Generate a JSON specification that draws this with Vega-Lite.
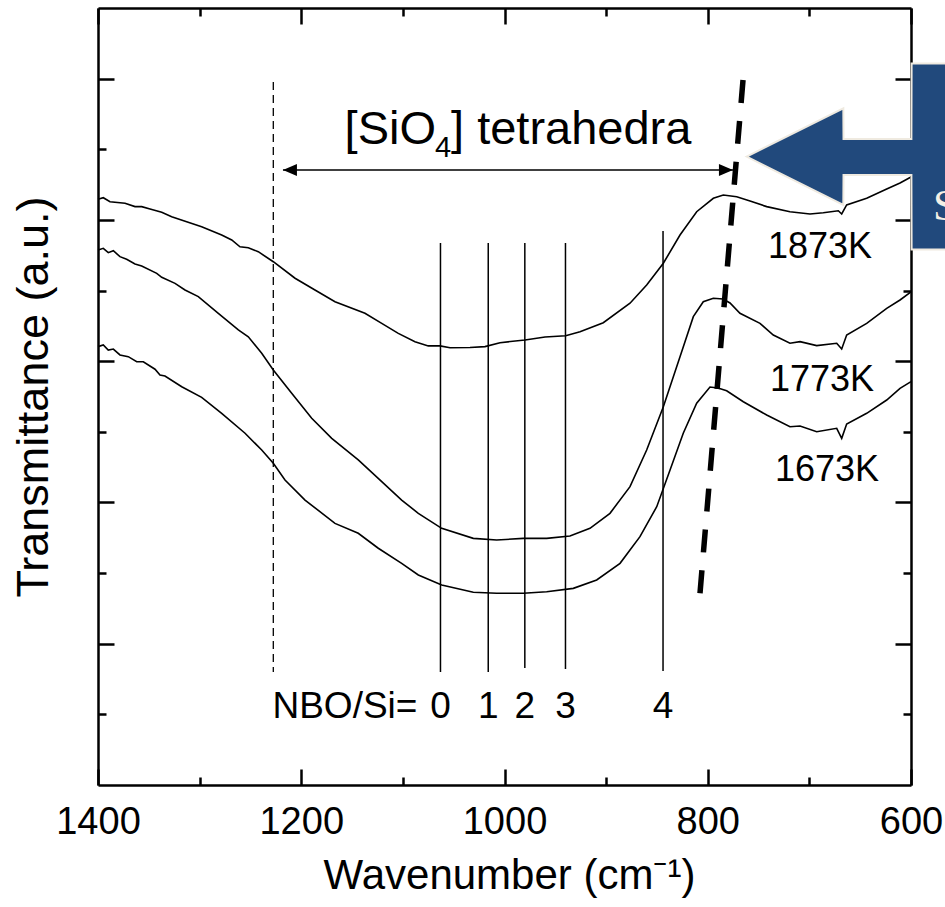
{
  "$schema": "https://vega.github.io/schema/vega-lite/v6.json",
  "width": 813,
  "height": 777,
  "autosize": {"type": "none"},
  "padding": {"left": 98, "top": 8, "right": 34, "bottom": 122},
  "background": "white",
  "config": {
    "view": {"stroke": null},
    "font": "Liberation Sans",
    "axis": {
      "grid": false,
      "domainColor": "black",
      "domainWidth": 2.5,
      "tickColor": "black",
      "tickWidth": 2.5,
      "labelColor": "black",
      "titleColor": "black",
      "titleFontWeight": "normal",
      "labelFlush": false,
      "labelOverlap": false
    }
  },
  "datasets": {
    "spectra": [
      {"s": "1873K", "w": 1400, "v": 4.146}, {"s": "1873K", "w": 1394.8, "v": 4.157}, {"s": "1873K", "w": 1388.2, "v": 4.129},
      {"s": "1873K", "w": 1373.4, "v": 4.118}, {"s": "1873K", "w": 1363.6, "v": 4.094}, {"s": "1873K", "w": 1357, "v": 4.094},
      {"s": "1873K", "w": 1348.8, "v": 4.077}, {"s": "1873K", "w": 1337.3, "v": 4.054}, {"s": "1873K", "w": 1327.5, "v": 4.023},
      {"s": "1873K", "w": 1298, "v": 3.952}, {"s": "1873K", "w": 1278.3, "v": 3.893}, {"s": "1873K", "w": 1268.4, "v": 3.858},
      {"s": "1873K", "w": 1260.3, "v": 3.81}, {"s": "1873K", "w": 1252.1, "v": 3.803}, {"s": "1873K", "w": 1242.3, "v": 3.775},
      {"s": "1873K", "w": 1227.5, "v": 3.704}, {"s": "1873K", "w": 1206.1, "v": 3.587}, {"s": "1873K", "w": 1186.5, "v": 3.504},
      {"s": "1873K", "w": 1166.8, "v": 3.421}, {"s": "1873K", "w": 1137.3, "v": 3.339}, {"s": "1873K", "w": 1120.8, "v": 3.268},
      {"s": "1873K", "w": 1104.5, "v": 3.197}, {"s": "1873K", "w": 1088.1, "v": 3.138}, {"s": "1873K", "w": 1075, "v": 3.108},
      {"s": "1873K", "w": 1063.5, "v": 3.108}, {"s": "1873K", "w": 1053.6, "v": 3.095}, {"s": "1873K", "w": 1034, "v": 3.097},
      {"s": "1873K", "w": 1019.2, "v": 3.103}, {"s": "1873K", "w": 1004.4, "v": 3.131}, {"s": "1873K", "w": 979.8, "v": 3.15},
      {"s": "1873K", "w": 960.1, "v": 3.171}, {"s": "1873K", "w": 939.8, "v": 3.18}, {"s": "1873K", "w": 925.7, "v": 3.209},
      {"s": "1873K", "w": 902.8, "v": 3.272}, {"s": "1873K", "w": 876.5, "v": 3.41}, {"s": "1873K", "w": 860.1, "v": 3.539},
      {"s": "1873K", "w": 843.7, "v": 3.693}, {"s": "1873K", "w": 827.3, "v": 3.893}, {"s": "1873K", "w": 810.9, "v": 4.058},
      {"s": "1873K", "w": 794.5, "v": 4.153}, {"s": "1873K", "w": 784.7, "v": 4.176}, {"s": "1873K", "w": 771.5, "v": 4.164},
      {"s": "1873K", "w": 758.4, "v": 4.134}, {"s": "1873K", "w": 742, "v": 4.094}, {"s": "1873K", "w": 719.1, "v": 4.058},
      {"s": "1873K", "w": 699.4, "v": 4.042}, {"s": "1873K", "w": 686.3, "v": 4.051}, {"s": "1873K", "w": 671.5, "v": 4.065},
      {"s": "1873K", "w": 668.2, "v": 4.042}, {"s": "1873K", "w": 663.3, "v": 4.106}, {"s": "1873K", "w": 643.6, "v": 4.153},
      {"s": "1873K", "w": 623.9, "v": 4.219}, {"s": "1873K", "w": 610.8, "v": 4.261}, {"s": "1873K", "w": 600, "v": 4.304},

      {"s": "1773K", "w": 1400, "v": 3.787}, {"s": "1773K", "w": 1394.8, "v": 3.799}, {"s": "1773K", "w": 1389.9, "v": 3.768},
      {"s": "1773K", "w": 1384.9, "v": 3.782}, {"s": "1773K", "w": 1378.4, "v": 3.74}, {"s": "1773K", "w": 1371.8, "v": 3.721},
      {"s": "1773K", "w": 1363.6, "v": 3.688}, {"s": "1773K", "w": 1357, "v": 3.674}, {"s": "1773K", "w": 1342.2, "v": 3.622},
      {"s": "1773K", "w": 1337.3, "v": 3.594}, {"s": "1773K", "w": 1324.2, "v": 3.551}, {"s": "1773K", "w": 1314.4, "v": 3.504},
      {"s": "1773K", "w": 1301.3, "v": 3.457}, {"s": "1773K", "w": 1281.6, "v": 3.339}, {"s": "1773K", "w": 1261.9, "v": 3.221},
      {"s": "1773K", "w": 1252.1, "v": 3.173}, {"s": "1773K", "w": 1238.9, "v": 3.056}, {"s": "1773K", "w": 1227.5, "v": 2.938},
      {"s": "1773K", "w": 1209.4, "v": 2.773}, {"s": "1773K", "w": 1189.7, "v": 2.596}, {"s": "1773K", "w": 1170, "v": 2.454},
      {"s": "1773K", "w": 1143.9, "v": 2.301}, {"s": "1773K", "w": 1120.8, "v": 2.147}, {"s": "1773K", "w": 1101.2, "v": 2.017},
      {"s": "1773K", "w": 1084.8, "v": 1.923}, {"s": "1773K", "w": 1061.8, "v": 1.817}, {"s": "1773K", "w": 1030.7, "v": 1.746},
      {"s": "1773K", "w": 1007.7, "v": 1.734}, {"s": "1773K", "w": 981.5, "v": 1.746}, {"s": "1773K", "w": 958.5, "v": 1.746},
      {"s": "1773K", "w": 935.6, "v": 1.763}, {"s": "1773K", "w": 915.9, "v": 1.817}, {"s": "1773K", "w": 896.2, "v": 1.923},
      {"s": "1773K", "w": 876.5, "v": 2.112}, {"s": "1773K", "w": 860.1, "v": 2.371}, {"s": "1773K", "w": 843.7, "v": 2.678},
      {"s": "1773K", "w": 827.3, "v": 3.032}, {"s": "1773K", "w": 814.2, "v": 3.315}, {"s": "1773K", "w": 804.4, "v": 3.421},
      {"s": "1773K", "w": 794.5, "v": 3.445}, {"s": "1773K", "w": 785, "v": 3.44}, {"s": "1773K", "w": 778.1, "v": 3.412},
      {"s": "1773K", "w": 768.3, "v": 3.339}, {"s": "1773K", "w": 748.6, "v": 3.268}, {"s": "1773K", "w": 735.5, "v": 3.185},
      {"s": "1773K", "w": 719.1, "v": 3.127}, {"s": "1773K", "w": 709.2, "v": 3.138}, {"s": "1773K", "w": 692.8, "v": 3.11},
      {"s": "1773K", "w": 673.1, "v": 3.127}, {"s": "1773K", "w": 668.2, "v": 3.086}, {"s": "1773K", "w": 663.3, "v": 3.185},
      {"s": "1773K", "w": 643.6, "v": 3.268}, {"s": "1773K", "w": 623.9, "v": 3.374}, {"s": "1773K", "w": 610.8, "v": 3.433},
      {"s": "1773K", "w": 600, "v": 3.49},

      {"s": "1673K", "w": 1400, "v": 3.103}, {"s": "1673K", "w": 1394.8, "v": 3.115}, {"s": "1673K", "w": 1389.9, "v": 3.079},
      {"s": "1673K", "w": 1384.9, "v": 3.086}, {"s": "1673K", "w": 1378.4, "v": 3.044}, {"s": "1673K", "w": 1370.2, "v": 3.032},
      {"s": "1673K", "w": 1361.9, "v": 2.996}, {"s": "1673K", "w": 1355.4, "v": 2.996}, {"s": "1673K", "w": 1343.9, "v": 2.943},
      {"s": "1673K", "w": 1339, "v": 2.902}, {"s": "1673K", "w": 1334.1, "v": 2.895}, {"s": "1673K", "w": 1317.6, "v": 2.819},
      {"s": "1673K", "w": 1298, "v": 2.744}, {"s": "1673K", "w": 1278.3, "v": 2.631}, {"s": "1673K", "w": 1255.3, "v": 2.49},
      {"s": "1673K", "w": 1238.9, "v": 2.371}, {"s": "1673K", "w": 1227.5, "v": 2.277}, {"s": "1673K", "w": 1216, "v": 2.159},
      {"s": "1673K", "w": 1196.3, "v": 2.017}, {"s": "1673K", "w": 1166.8, "v": 1.852}, {"s": "1673K", "w": 1143.9, "v": 1.782},
      {"s": "1673K", "w": 1124.2, "v": 1.676}, {"s": "1673K", "w": 1101.2, "v": 1.569}, {"s": "1673K", "w": 1084.8, "v": 1.487},
      {"s": "1673K", "w": 1061.8, "v": 1.416}, {"s": "1673K", "w": 1030.7, "v": 1.364}, {"s": "1673K", "w": 1007.7, "v": 1.357},
      {"s": "1673K", "w": 981.5, "v": 1.357}, {"s": "1673K", "w": 958.5, "v": 1.368}, {"s": "1673K", "w": 932.3, "v": 1.392},
      {"s": "1673K", "w": 909.3, "v": 1.451}, {"s": "1673K", "w": 886.3, "v": 1.569}, {"s": "1673K", "w": 866.7, "v": 1.758},
      {"s": "1673K", "w": 850.2, "v": 1.97}, {"s": "1673K", "w": 837.1, "v": 2.23}, {"s": "1673K", "w": 824.1, "v": 2.49},
      {"s": "1673K", "w": 810.9, "v": 2.702}, {"s": "1673K", "w": 797.8, "v": 2.817}, {"s": "1673K", "w": 789.9, "v": 2.81},
      {"s": "1673K", "w": 781.4, "v": 2.791}, {"s": "1673K", "w": 765, "v": 2.713}, {"s": "1673K", "w": 742, "v": 2.619},
      {"s": "1673K", "w": 719.1, "v": 2.536}, {"s": "1673K", "w": 709.2, "v": 2.541}, {"s": "1673K", "w": 692.8, "v": 2.501},
      {"s": "1673K", "w": 673.1, "v": 2.525}, {"s": "1673K", "w": 668.2, "v": 2.454}, {"s": "1673K", "w": 663.3, "v": 2.555},
      {"s": "1673K", "w": 643.6, "v": 2.631}, {"s": "1673K", "w": 623.9, "v": 2.725}, {"s": "1673K", "w": 610.8, "v": 2.808},
      {"s": "1673K", "w": 600, "v": 2.855}
    ],
    "nbo": [
      {"n": "0", "w": 1063, "top": 3.837, "bottom": 0.8},
      {"n": "1", "w": 1016, "top": 3.837, "bottom": 0.8},
      {"n": "2", "w": 980, "top": 3.837, "bottom": 0.828},
      {"n": "3", "w": 940, "top": 3.837, "bottom": 0.821},
      {"n": "4", "w": 844, "top": 3.921, "bottom": 0.807}
    ],
    "nboText": [
      {"t": "NBO/Si=", "w": 1157, "v": 0.474},
      {"t": "0", "w": 1063, "v": 0.474},
      {"t": "1", "w": 1016, "v": 0.474},
      {"t": "2", "w": 980, "v": 0.474},
      {"t": "3", "w": 940, "v": 0.474},
      {"t": "4", "w": 844, "v": 0.474}
    ],
    "edge": [
      {"w": 1227.5, "top": 4.976, "bottom": 0.8}
    ],
    "span": [
      {"w": 1218, "v": 4.353, "dir": "L"},
      {"w": 775.2, "v": 4.353, "dir": "R"}
    ],
    "shift": [
      {"i": 0, "w": 765.3, "v": 4.99},
      {"i": 1, "w": 808.6, "v": 1.274}
    ],
    "temps": [
      {"t": "1873K", "w": 689.6, "v": 3.805},
      {"t": "1773K", "w": 687.6, "v": 2.87},
      {"t": "1673K", "w": 682.7, "v": 2.23}
    ],
    "captionHead": [
      {"t": "[SiO", "w": 1067.4, "v": 4.537}
    ],
    "captionSub": [
      {"t": "4", "w": 1068.4, "v": 4.445}
    ],
    "captionTail": [
      {"t": "] tetrahedra", "w": 1052.6, "v": 4.537}
    ],
    "pointer": [
      {"w": 761.7, "top": 4.448, "bottom": 4.448},
      {"w": 666.6, "top": 4.79, "bottom": 4.106},
      {"w": 666.4, "top": 4.573, "bottom": 4.318},
      {"w": 599.6, "top": 4.573, "bottom": 4.318},
      {"w": 599.4, "top": 5.107, "bottom": 3.791},
      {"w": 550, "top": 5.107, "bottom": 3.791}
    ],
    "pointerText": [
      {"t": "S", "w": 578.4, "v": 4.0}
    ]
  },
  "layer": [
    {
      "data": {"name": "spectra"},
      "mark": {"type": "line", "color": "black", "strokeWidth": 1.6},
      "encoding": {
        "x": {
          "field": "w", "type": "quantitative",
          "scale": {"domain": [600, 1400], "reverse": true, "nice": false, "zero": false},
          "axis": {
            "orient": "bottom",
            "values": [1400, 1300, 1200, 1100, 1000, 900, 800, 700, 600],
            "labelExpr": "datum.value % 200 === 0 ? datum.label : ''",
            "format": "d",
            "tickSize": {"condition": {"test": "datum.value % 200 === 0", "value": -16}, "value": -8},
            "labelFontSize": 38,
            "labelBaseline": "top",
            "labelPadding": 34,
            "title": "Wavenumber (cm⁻¹)",
            "titleFontSize": 42,
            "titleX": 411,
            "titleY": 103,
            "titleAlign": "center",
            "titleBaseline": "alphabetic",
            "zindex": 0
          }
        },
        "y": {
          "field": "v", "type": "quantitative",
          "scale": {"domain": [0, 5.5], "nice": false, "zero": false},
          "axis": {
            "orient": "left",
            "values": [0.5, 1, 1.5, 2, 2.5, 3, 3.5, 4, 4.5, 5],
            "labels": false,
            "tickSize": {"condition": {"test": "datum.value % 1 === 0", "value": -16}, "value": -8},
            "title": "Transmittance (a.u.)",
            "titleFontSize": 45,
            "titleAngle": 270,
            "titleX": -51,
            "titleY": 388.5,
            "titleAlign": "center",
            "titleBaseline": "alphabetic",
            "zindex": 0
          }
        },
        "detail": {"field": "s", "type": "nominal"}
      }
    },
    {
      "data": {"name": "nbo"},
      "mark": {"type": "rule", "color": "black", "strokeWidth": 1.5},
      "encoding": {
        "x": {
          "field": "w", "type": "quantitative",
          "scale": {"domain": [600, 1400], "reverse": true, "nice": false, "zero": false},
          "axis": {
            "orient": "top",
            "values": [1400, 1300, 1200, 1100, 1000, 900, 800, 700, 600],
            "labels": false,
            "title": null,
            "tickSize": {"condition": {"test": "datum.value % 200 === 0", "value": -16}, "value": -8},
            "zindex": 0
          }
        },
        "y": {
          "field": "top", "type": "quantitative",
          "scale": {"domain": [0, 5.5], "nice": false, "zero": false},
          "axis": {
            "orient": "right",
            "values": [0.5, 1, 1.5, 2, 2.5, 3, 3.5, 4, 4.5, 5],
            "labels": false,
            "title": null,
            "tickSize": {"condition": {"test": "datum.value % 1 === 0", "value": -16}, "value": -8},
            "zindex": 0
          }
        },
        "y2": {"field": "bottom"}
      }
    },
    {
      "data": {"name": "edge"},
      "mark": {"type": "rule", "color": "black", "strokeWidth": 1.3, "strokeDash": [8, 5]},
      "encoding": {
        "x": {"field": "w", "type": "quantitative", "axis": null},
        "y": {"field": "top", "type": "quantitative", "axis": null},
        "y2": {"field": "bottom"}
      }
    },
    {
      "data": {"name": "span"},
      "mark": {"type": "line", "color": "black", "strokeWidth": 1.5},
      "encoding": {
        "x": {"field": "w", "type": "quantitative", "axis": null},
        "y": {"field": "v", "type": "quantitative", "axis": null}
      }
    },
    {
      "data": {"name": "span"},
      "mark": {"type": "point", "filled": true, "color": "black", "opacity": 1, "strokeWidth": 0, "size": 196},
      "encoding": {
        "x": {"field": "w", "type": "quantitative", "axis": null},
        "y": {"field": "v", "type": "quantitative", "axis": null},
        "shape": {
          "field": "dir", "type": "nominal", "legend": null,
          "scale": {"domain": ["L", "R"], "range": ["M0,0L2,-0.857L2,0.857Z", "M0,0L-2,-0.857L-2,0.857Z"]}
        }
      }
    },
    {
      "data": {"name": "shift"},
      "mark": {"type": "line", "color": "black", "strokeWidth": 5.5, "strokeDash": [23, 18], "strokeCap": "butt"},
      "encoding": {
        "x": {"field": "w", "type": "quantitative", "axis": null},
        "y": {"field": "v", "type": "quantitative", "axis": null},
        "order": {"field": "i", "type": "quantitative"}
      }
    },
    {
      "data": {"name": "nboText"},
      "mark": {"type": "text", "fontSize": 37, "align": "center", "baseline": "alphabetic", "color": "black"},
      "encoding": {
        "x": {"field": "w", "type": "quantitative", "axis": null},
        "y": {"field": "v", "type": "quantitative", "axis": null},
        "text": {"field": "t"}
      }
    },
    {
      "data": {"name": "temps"},
      "mark": {"type": "text", "fontSize": 36, "align": "center", "baseline": "middle", "color": "black"},
      "encoding": {
        "x": {"field": "w", "type": "quantitative", "axis": null},
        "y": {"field": "v", "type": "quantitative", "axis": null},
        "text": {"field": "t"}
      }
    },
    {
      "data": {"name": "captionHead"},
      "mark": {"type": "text", "fontSize": 47, "align": "right", "baseline": "alphabetic", "color": "black"},
      "encoding": {
        "x": {"field": "w", "type": "quantitative", "axis": null},
        "y": {"field": "v", "type": "quantitative", "axis": null},
        "text": {"field": "t"}
      }
    },
    {
      "data": {"name": "captionSub"},
      "mark": {"type": "text", "fontSize": 29, "align": "left", "baseline": "alphabetic", "color": "black"},
      "encoding": {
        "x": {"field": "w", "type": "quantitative", "axis": null},
        "y": {"field": "v", "type": "quantitative", "axis": null},
        "text": {"field": "t"}
      }
    },
    {
      "data": {"name": "captionTail"},
      "mark": {"type": "text", "fontSize": 47, "align": "left", "baseline": "alphabetic", "color": "black"},
      "encoding": {
        "x": {"field": "w", "type": "quantitative", "axis": null},
        "y": {"field": "v", "type": "quantitative", "axis": null},
        "text": {"field": "t"}
      }
    },
    {
      "data": {"name": "pointer"},
      "mark": {"type": "area", "fill": "#21497c", "stroke": "#efeae0", "strokeWidth": 2, "opacity": 1, "fillOpacity": 1, "clip": false},
      "encoding": {
        "x": {"field": "w", "type": "quantitative", "axis": null},
        "y": {"field": "top", "type": "quantitative", "axis": null},
        "y2": {"field": "bottom"}
      }
    },
    {
      "data": {"name": "pointerText"},
      "mark": {"type": "text", "font": "Liberation Serif", "fontSize": 44, "align": "left", "baseline": "alphabetic", "color": "#f3efe6"},
      "encoding": {
        "x": {"field": "w", "type": "quantitative", "axis": null},
        "y": {"field": "v", "type": "quantitative", "axis": null},
        "text": {"field": "t"}
      }
    }
  ],
  "resolve": {"axis": {"x": "independent", "y": "independent"}}
}
